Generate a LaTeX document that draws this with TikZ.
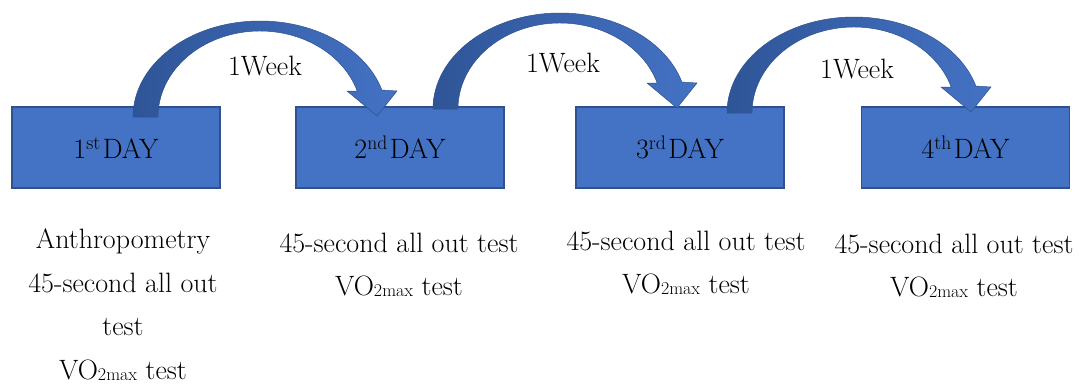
\documentclass[tikz,border=0pt]{standalone}
\usepackage{fontspec}
\definecolor{boxBlue}{HTML}{4472C4}
\definecolor{boxEdge}{HTML}{2F528F}
\definecolor{arrDark}{HTML}{2F5597}
\tikzset{
  daybox/.style={draw=boxEdge, line width=1.5pt, fill=boxBlue, minimum width=208pt, minimum height=81pt, inner sep=0pt, font=\fontsize{28}{32}\selectfont},
  infotext/.style={align=center, inner sep=0pt, anchor=north, font=\fontsize{28}{43.5}\selectfont},
  weeklabel/.style={anchor=base, inner sep=0pt, font=\fontsize{28}{32}\selectfont},
  arrowfill/.style={left color=arrDark, middle color=arrDark!50!boxBlue, right color=boxBlue, draw=boxEdge, line width=0.5pt}
}
\newcommand\vomax{VO\raisebox{-1pt}{\fontsize{18}{18}\selectfont 2max}\ test}
% #1 = centre x of the arc, #2 = baseline y (tail bottom)
\newcommand\bendarrow[2]{%
  \path[arrowfill] (#1-127,#2)
    arc[start angle=180, end angle=343.7, x radius=127, y radius=96]
    -- (#1+137,#2-26) -- (#1+117,#2-1) -- (#1+87,#2-26) -- (#1+97.2,#2-26)
    arc[start angle=342.4, end angle=180, x radius=102, y radius=86]
    -- cycle;
}
\begin{document}
\begin{tikzpicture}[x=1pt, y=-1pt]
\path[use as bounding box, fill=white] (0,0) rectangle (1083,383);
% day boxes
\node[daybox] (d1) at (116,147.5) {1\textsuperscript{st}\kern2pt DAY};
\node[daybox] (d2) at (400,147.5) {2\textsuperscript{nd}\kern2pt DAY};
\node[daybox] (d3) at (680,147.5) {3\textsuperscript{rd}\kern2pt DAY};
\node[daybox] (d4) at (965.5,147.5) {4\textsuperscript{th}\kern2pt DAY};
% curved arrows
\bendarrow{260}{117}
\bendarrow{560}{109}
\bendarrow{854}{113}
% week labels
\node[weeklabel] (w1) at (265,75) {1Week};
\node[weeklabel] (w2) at (563,72) {1Week};
\node[weeklabel] (w3) at (857,78) {1Week};
% descriptions
\node[infotext] (t1) at (123,228.6) {Anthropometry\\45-second all out\\test\\\vomax};
\node[infotext] (t2) at (399,232.6) {45-second all out test\\\vomax};
\node[infotext] (t3) at (686,230.6) {45-second all out test\\\vomax};
\node[infotext] (t4) at (954,233.6) {45-second all out test\\\vomax};
\end{tikzpicture}
\end{document}
